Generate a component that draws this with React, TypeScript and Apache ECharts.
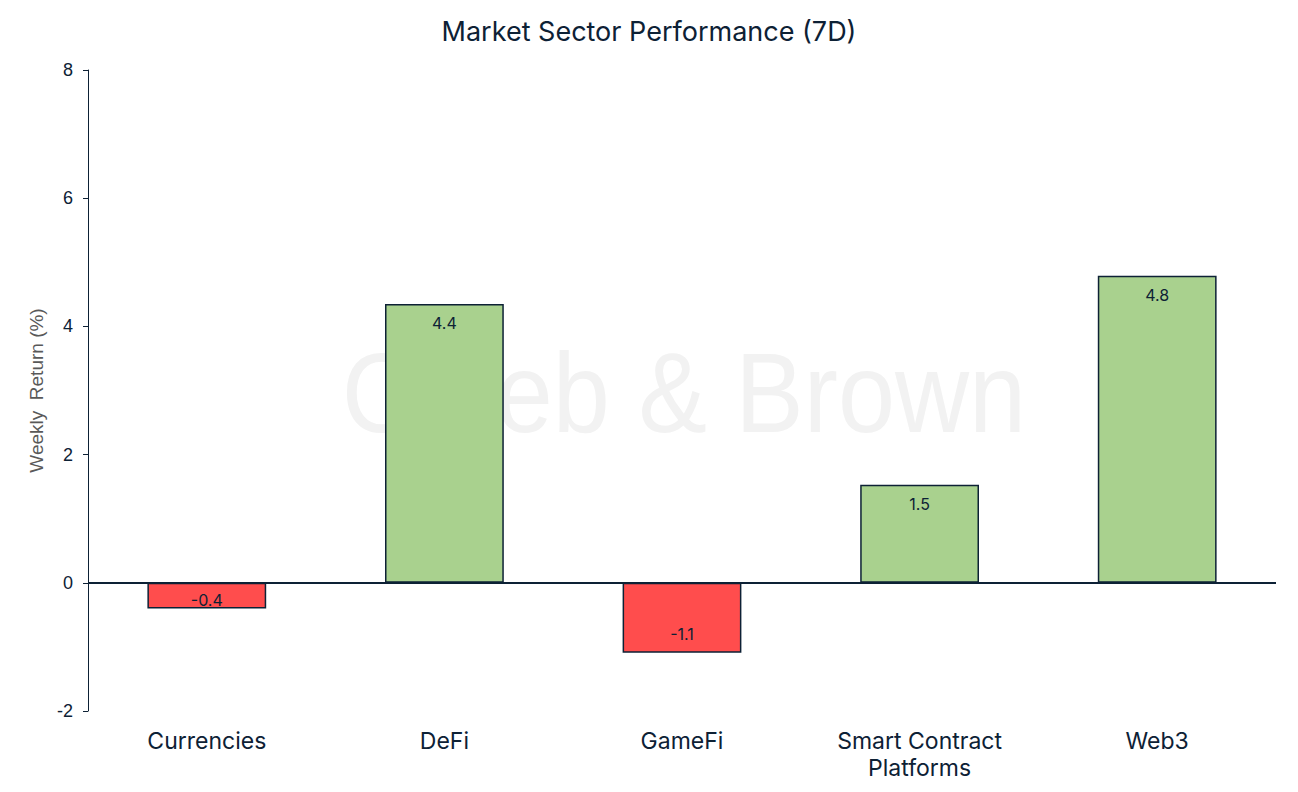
import React, { useEffect, useRef } from "react";
import * as echarts from "echarts";

const categories = ["Currencies", "DeFi", "GameFi", "Smart Contract\nPlatforms", "Web3"];
const weeklyReturns = [-0.4, 4.35, -1.09, 1.53, 4.79];
const yTicks = { min: -2, max: 8, interval: 2 };

const NAVY = "#0d2135";
const GREEN = "#a9d18e";
const RED = "#ff4d4d";
const FONT = "Inter, 'Noto Sans', sans-serif";
const ARIAL = "'Liberation Sans', Arial, sans-serif";

export default function App() {
  const ref = useRef<HTMLDivElement>(null);
  useEffect(() => {
    if (!ref.current) return;
    const chart = echarts.init(ref.current, undefined, { renderer: "svg" });
    chart.setOption({
      animation: false,
      backgroundColor: "#ffffff",
      title: {
        text: "Market Sector Performance (7D)",
        left: "center",
        top: 13,
        textStyle: { fontFamily: FONT, fontSize: 27, fontWeight: "normal", color: NAVY },
      },
      graphic: [
        {
          type: "text",
          z: -10,
          silent: true,
          x: 684,
          y: 393,
          scaleX: 0.9,
          style: {
            text: "Caleb & Brown",
            fontFamily: ARIAL,
            fontSize: 114,
            fill: "#f2f2f2",
            textAlign: "center",
            textVerticalAlign: "middle",
          },
        },
      ],
      grid: { left: 88, right: 22, top: 70, bottom: 81, containLabel: false },
      xAxis: {
        type: "category",
        data: categories,
        axisLine: { show: false },
        axisTick: { show: false },
        axisLabel: {
          margin: 16,
          fontFamily: FONT,
          fontSize: 23,
          color: NAVY,
          lineHeight: 27,
        },
      },
      yAxis: {
        type: "value",
        min: yTicks.min,
        max: yTicks.max,
        interval: yTicks.interval,
        name: "Weekly  Return (%)",
        nameLocation: "middle",
        nameGap: 42,
        nameTextStyle: { fontFamily: ARIAL, fontSize: 19, color: "#595959" },
        axisLine: { show: true, lineStyle: { color: NAVY, width: 1 } },
        axisTick: { show: true, length: 5, lineStyle: { color: NAVY } },
        splitLine: { show: false },
        axisLabel: {
          margin: 15,
          fontFamily: ARIAL,
          fontSize: 18,
          color: NAVY,
        },
      },
      series: [
        {
          type: "bar",
          barWidth: "50%",
          data: weeklyReturns.map((v) => ({
            value: v,
            itemStyle: { color: v >= 0 ? GREEN : RED, borderColor: NAVY, borderWidth: 1.5 },
            label: {
              position: v >= 0 ? "insideTop" : "insideBottom",
              distance: Math.abs(v) < 1 ? 0 : 11,
            },
          })),
          label: {
            show: true,
            fontFamily: FONT,
            fontSize: 16,
            color: NAVY,
            formatter: (p: any) => (Math.round(p.value * 10) / 10).toFixed(1),
          },
          markLine: {
            silent: true,
            symbol: "none",
            label: { show: false },
            lineStyle: { color: NAVY, width: 2, type: "solid" },
            data: [{ yAxis: 0 }],
          },
        },
      ],
    });
    return () => chart.dispose();
  }, []);
  return <div ref={ref} style={{ width: 1298, height: 792, margin: -8 }} />;
}
